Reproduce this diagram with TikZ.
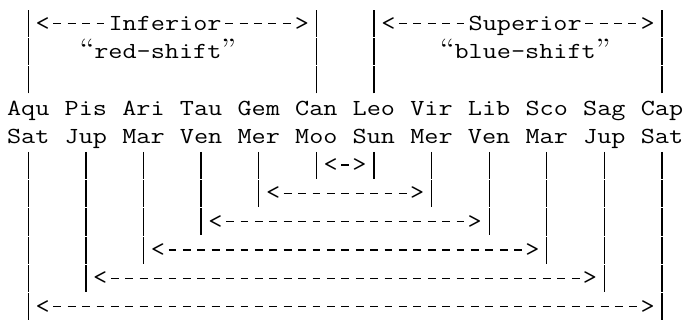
\documentclass[tikz,border=0pt]{standalone}
\usepackage{graphicx}

% stretch the mono glyphs to the column pitch
\newcommand{\sx}[1]{\scalebox{1.1925}[1]{#1}}
% curly quotes, one column wide
\newcommand{\qo}{\makebox[6.0375pt]{\fontsize{14}{14}\rmfamily\fontseries{m}\selectfont “}}
\newcommand{\qc}{\makebox[6.0375pt]{\fontsize{14}{14}\rmfamily\fontseries{m}\selectfont ”}}

\tikzset{
  lbl/.style = {inner sep=0pt, text height=10.66pt, text depth=4.06pt,
                font=\fontsize{11.5}{12}\ttfamily\selectfont},
  bar/.style = {line width=0.62pt, dash pattern=on 13.58pt off 0.57pt},
  dsh/.style = {line width=0.62pt, dash pattern=on 3.96pt off 3.24pt, dash phase=5.62pt}
}

\begin{document}
\begin{tikzpicture}[
    x = 7.2pt,
    y = -14.15pt
  ]
\useasboundingbox (-0.965,0.17) rectangle (46.53,11.51);
% signs
\foreach \s [count=\i from 0] in {Aqu,Pis,Ari,Tau,Gem,Can,Leo,Vir,Lib,Sco,Sag,Cap}
  \node[lbl] (z\i) at (4*\i+1,4) {\sx{\s}};
% planets
\foreach \p [count=\i from 0] in {Sat,Jup,Mar,Ven,Mer,Moo,Sun,Mer,Ven,Mar,Jup,Sat}
  \node[lbl] (p\i) at (4*\i+1,5) {\sx{\p}};
% top brackets
\coordinate (top) at (0,0.52);
\foreach \i in {0,5,6,11}
  \draw[bar] (z\i.north) -- (z\i.north |- top);
% inferior
\node[lbl] (iL)  at (2,1)    {\sx{<}};
\node[lbl] (inf) at (10.5,1) {\sx{Inferior}};
\node[lbl] (iR)  at (20,1)   {\sx{>}};
\node[lbl] (red) at (10,2)   {\sx{\qo red-shift\qc}};
\draw[dsh] (iL) -- (inf);
\draw[dsh] (inf) -- (iR);
% superior
\node[lbl] (sL)   at (26,1)   {\sx{<}};
\node[lbl] (sup)  at (35.5,1) {\sx{Superior}};
\node[lbl] (sR)   at (44,1)   {\sx{>}};
\node[lbl] (blue) at (35.5,2) {\sx{\qo blue-shift\qc}};
\draw[dsh] (sL) -- (sup);
\draw[dsh] (sup) -- (sR);
% paired planets
\foreach \i/\r in {0/11,1/10,2/9,3/8,4/7,5/6}{
  \pgfmathtruncatemacro\j{11-\i}
  \coordinate (e\i) at (4*\i+1,\r+0.48);
  \coordinate (f\i) at (4*\j+1,\r+0.48);
  \draw[bar] (p\i.south) -- (e\i);
  \draw[bar] (p\j.south) -- (f\i);
  \node[lbl] (aL\i) at (4*\i+2,\r) {\sx{<}};
  \node[lbl] (aR\i) at (4*\j,\r)   {\sx{>}};
  \draw[dsh] (aL\i) -- (aR\i);
}
%
\end{tikzpicture}
\end{document}
